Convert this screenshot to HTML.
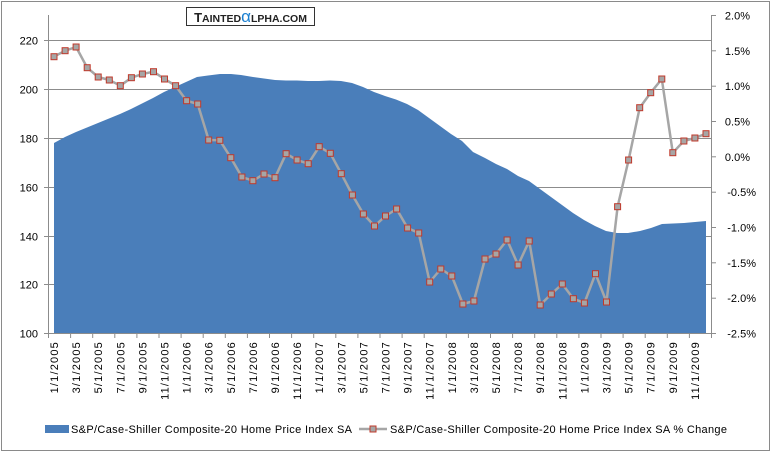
<!DOCTYPE html>
<html><head><meta charset="utf-8"><style>
html,body{margin:0;padding:0;background:#fff}
svg{display:block}
text{font-family:"Liberation Sans",sans-serif;font-size:11px;fill:#000}
.xl text{letter-spacing:1.2px}
</style></head><body>
<svg width="771" height="452" xmlns="http://www.w3.org/2000/svg">
<rect x="1.5" y="1.5" width="768" height="449" fill="#fff" stroke="#8a8a8a"/>
<g stroke="#8c8c8c" stroke-width="1">
<line x1="48.5" x2="711.5" y1="40.5" y2="40.5"/>
<line x1="48.5" x2="711.5" y1="89.5" y2="89.5"/>
<line x1="48.5" x2="711.5" y1="138.5" y2="138.5"/>
<line x1="48.5" x2="711.5" y1="187.5" y2="187.5"/>
<line x1="48.5" x2="711.5" y1="236.5" y2="236.5"/>
<line x1="48.5" x2="711.5" y1="284.5" y2="284.5"/>
</g>
<path fill="#4a7eba" d="M54,333 L54,143 L65,137 L76,132 L87,127.5 L98,123 L109,118.5 L120,114 L131,109 L142,103.5 L153,98 L164,92 L175,87 L186,82 L197,77 L208,75.5 L220,74 L231,74 L241,75 L253,77 L264,78.5 L275,80 L286,80.5 L297,80.5 L308,81 L319,81 L330,80.5 L341,81 L352,83 L363,87 L374,92 L385,96 L396,99.5 L407,104 L418,110 L429,118 L440,126 L451,134 L462,141 L473,152 L485,158 L496,164 L507,169 L518,176 L529,181 L540,189 L551,197 L562,205 L573,213 L584,220 L595,226 L606,231 L617,233 L628,233 L640,231 L651,228 L662,224 L673,223.5 L684,223 L695,222 L706,221 L706,333 Z"/>
<g stroke="#8c8c8c" stroke-width="1">
<line x1="48.5" x2="48.5" y1="15" y2="338"/>
<line x1="711.5" x2="711.5" y1="15" y2="338"/>
<line x1="44" x2="716" y1="333.5" y2="333.5"/>
<line x1="44" x2="48.5" y1="40.5" y2="40.5"/>
<line x1="44" x2="48.5" y1="89.5" y2="89.5"/>
<line x1="44" x2="48.5" y1="138.5" y2="138.5"/>
<line x1="44" x2="48.5" y1="187.5" y2="187.5"/>
<line x1="44" x2="48.5" y1="236.5" y2="236.5"/>
<line x1="44" x2="48.5" y1="284.5" y2="284.5"/>
<line x1="711.5" x2="716" y1="15.5" y2="15.5"/>
<line x1="711.5" x2="716" y1="50.8" y2="50.8"/>
<line x1="711.5" x2="716" y1="86.2" y2="86.2"/>
<line x1="711.5" x2="716" y1="121.5" y2="121.5"/>
<line x1="711.5" x2="716" y1="156.8" y2="156.8"/>
<line x1="711.5" x2="716" y1="192.2" y2="192.2"/>
<line x1="711.5" x2="716" y1="227.5" y2="227.5"/>
<line x1="711.5" x2="716" y1="262.8" y2="262.8"/>
<line x1="711.5" x2="716" y1="298.2" y2="298.2"/>
</g>
<g stroke="#8c8c8c">
<line x1="70.6" x2="70.6" y1="333" y2="338"/><line x1="92.7" x2="92.7" y1="333" y2="338"/><line x1="114.8" x2="114.8" y1="333" y2="338"/><line x1="136.9" x2="136.9" y1="333" y2="338"/><line x1="159" x2="159" y1="333" y2="338"/><line x1="181.1" x2="181.1" y1="333" y2="338"/><line x1="203.2" x2="203.2" y1="333" y2="338"/><line x1="225.3" x2="225.3" y1="333" y2="338"/><line x1="247.4" x2="247.4" y1="333" y2="338"/><line x1="269.5" x2="269.5" y1="333" y2="338"/><line x1="291.6" x2="291.6" y1="333" y2="338"/><line x1="313.7" x2="313.7" y1="333" y2="338"/><line x1="335.8" x2="335.8" y1="333" y2="338"/><line x1="357.9" x2="357.9" y1="333" y2="338"/><line x1="380" x2="380" y1="333" y2="338"/><line x1="402.1" x2="402.1" y1="333" y2="338"/><line x1="424.2" x2="424.2" y1="333" y2="338"/><line x1="446.3" x2="446.3" y1="333" y2="338"/><line x1="468.4" x2="468.4" y1="333" y2="338"/><line x1="490.5" x2="490.5" y1="333" y2="338"/><line x1="512.6" x2="512.6" y1="333" y2="338"/><line x1="534.7" x2="534.7" y1="333" y2="338"/><line x1="556.8" x2="556.8" y1="333" y2="338"/><line x1="578.9" x2="578.9" y1="333" y2="338"/><line x1="601" x2="601" y1="333" y2="338"/><line x1="623.1" x2="623.1" y1="333" y2="338"/><line x1="645.2" x2="645.2" y1="333" y2="338"/><line x1="667.3" x2="667.3" y1="333" y2="338"/><line x1="689.4" x2="689.4" y1="333" y2="338"/>
</g>
<g text-anchor="end">
<text x="38" y="44.5">220</text><text x="38" y="93.5">200</text><text x="38" y="142.5">180</text>
<text x="38" y="191.5">160</text><text x="38" y="240.5">140</text><text x="38" y="288.5">120</text><text x="38" y="337.5">100</text>
</g>
<g text-anchor="end">
<text x="750" y="19.5">2.0%</text><text x="750" y="54.8">1.5%</text><text x="750" y="90.2">1.0%</text>
<text x="750" y="125.5">0.5%</text><text x="750" y="160.8">0.0%</text><text x="756" y="196.2">-0.5%</text>
<text x="756" y="231.5">-1.0%</text><text x="756" y="266.8">-1.5%</text><text x="756" y="302.2">-2.0%</text><text x="756" y="337.5">-2.5%</text>
</g>
<g text-anchor="end" class="xl">
<text transform="translate(58,341) rotate(-90)">1/1/2005</text>
<text transform="translate(80.1,341) rotate(-90)">3/1/2005</text>
<text transform="translate(102.2,341) rotate(-90)">5/1/2005</text>
<text transform="translate(124.3,341) rotate(-90)">7/1/2005</text>
<text transform="translate(146.4,341) rotate(-90)">9/1/2005</text>
<text transform="translate(168.5,341) rotate(-90)">11/1/2005</text>
<text transform="translate(190.6,341) rotate(-90)">1/1/2006</text>
<text transform="translate(212.7,341) rotate(-90)">3/1/2006</text>
<text transform="translate(234.8,341) rotate(-90)">5/1/2006</text>
<text transform="translate(256.9,341) rotate(-90)">7/1/2006</text>
<text transform="translate(279,341) rotate(-90)">9/1/2006</text>
<text transform="translate(301.1,341) rotate(-90)">11/1/2006</text>
<text transform="translate(323.2,341) rotate(-90)">1/1/2007</text>
<text transform="translate(345.3,341) rotate(-90)">3/1/2007</text>
<text transform="translate(367.4,341) rotate(-90)">5/1/2007</text>
<text transform="translate(389.5,341) rotate(-90)">7/1/2007</text>
<text transform="translate(411.6,341) rotate(-90)">9/1/2007</text>
<text transform="translate(433.7,341) rotate(-90)">11/1/2007</text>
<text transform="translate(455.8,341) rotate(-90)">1/1/2008</text>
<text transform="translate(477.9,341) rotate(-90)">3/1/2008</text>
<text transform="translate(500,341) rotate(-90)">5/1/2008</text>
<text transform="translate(522.1,341) rotate(-90)">7/1/2008</text>
<text transform="translate(544.2,341) rotate(-90)">9/1/2008</text>
<text transform="translate(566.3,341) rotate(-90)">11/1/2008</text>
<text transform="translate(588.4,341) rotate(-90)">1/1/2009</text>
<text transform="translate(610.5,341) rotate(-90)">3/1/2009</text>
<text transform="translate(632.6,341) rotate(-90)">5/1/2009</text>
<text transform="translate(654.7,341) rotate(-90)">7/1/2009</text>
<text transform="translate(676.8,341) rotate(-90)">9/1/2009</text>
<text transform="translate(698.9,341) rotate(-90)">11/1/2009</text>
</g>
<polyline fill="none" stroke="#a6a6a6" stroke-width="2.5" stroke-linejoin="round" points="54,56.7 65.1,50.7 76.1,47 87.2,67.7 98.2,77 109.3,80 120.3,85.7 131.4,77.7 142.4,74 153.5,71.7 164.5,79 175.6,85.7 186.6,100.7 197.7,104 208.7,140 219.8,140.3 230.8,157.7 241.9,177 252.9,180.7 264,174 275,177.7 286.1,153.7 297.1,160 308.2,163.7 319.2,146.7 330.3,153.3 341.3,173.7 352.4,195 363.4,214 374.5,226 385.5,216 396.6,209 407.6,228 418.7,233 429.7,282 440.8,269 451.8,276 462.9,304 473.9,301 485,259 496,254 507.1,240 518.1,265 529.2,241 540.2,305 551.3,294 562.3,284 573.4,298.7 584.4,303 595.5,273.7 606.5,302 617.6,206.7 628.6,160 639.7,107.7 650.7,92.7 661.8,79 672.8,152.7 683.9,141 694.9,138 706,133.7"/>
<g fill="#a6a6a6" stroke="#c0392b" stroke-width="1" transform="translate(0.5,0.5)">
<rect x="50.5" y="53.2" width="6" height="6"/><rect x="61.6" y="47.2" width="6" height="6"/><rect x="72.6" y="43.5" width="6" height="6"/><rect x="83.7" y="64.2" width="6" height="6"/><rect x="94.7" y="73.5" width="6" height="6"/><rect x="105.8" y="76.5" width="6" height="6"/><rect x="116.8" y="82.2" width="6" height="6"/><rect x="127.9" y="74.2" width="6" height="6"/><rect x="138.9" y="70.5" width="6" height="6"/><rect x="150" y="68.2" width="6" height="6"/><rect x="161" y="75.5" width="6" height="6"/><rect x="172.1" y="82.2" width="6" height="6"/><rect x="183.1" y="97.2" width="6" height="6"/><rect x="194.2" y="100.5" width="6" height="6"/><rect x="205.2" y="136.5" width="6" height="6"/><rect x="216.3" y="136.8" width="6" height="6"/><rect x="227.3" y="154.2" width="6" height="6"/><rect x="238.4" y="173.5" width="6" height="6"/><rect x="249.4" y="177.2" width="6" height="6"/><rect x="260.5" y="170.5" width="6" height="6"/><rect x="271.5" y="174.2" width="6" height="6"/><rect x="282.6" y="150.2" width="6" height="6"/><rect x="293.6" y="156.5" width="6" height="6"/><rect x="304.7" y="160.2" width="6" height="6"/><rect x="315.7" y="143.2" width="6" height="6"/><rect x="326.8" y="149.8" width="6" height="6"/><rect x="337.8" y="170.2" width="6" height="6"/><rect x="348.9" y="191.5" width="6" height="6"/><rect x="359.9" y="210.5" width="6" height="6"/><rect x="371" y="222.5" width="6" height="6"/><rect x="382" y="212.5" width="6" height="6"/><rect x="393.1" y="205.5" width="6" height="6"/><rect x="404.1" y="224.5" width="6" height="6"/><rect x="415.2" y="229.5" width="6" height="6"/><rect x="426.2" y="278.5" width="6" height="6"/><rect x="437.3" y="265.5" width="6" height="6"/><rect x="448.3" y="272.5" width="6" height="6"/><rect x="459.4" y="300.5" width="6" height="6"/><rect x="470.4" y="297.5" width="6" height="6"/><rect x="481.5" y="255.5" width="6" height="6"/><rect x="492.5" y="250.5" width="6" height="6"/><rect x="503.6" y="236.5" width="6" height="6"/><rect x="514.6" y="261.5" width="6" height="6"/><rect x="525.7" y="237.5" width="6" height="6"/><rect x="536.7" y="301.5" width="6" height="6"/><rect x="547.8" y="290.5" width="6" height="6"/><rect x="558.8" y="280.5" width="6" height="6"/><rect x="569.9" y="295.2" width="6" height="6"/><rect x="580.9" y="299.5" width="6" height="6"/><rect x="592" y="270.2" width="6" height="6"/><rect x="603" y="298.5" width="6" height="6"/><rect x="614.1" y="203.2" width="6" height="6"/><rect x="625.1" y="156.5" width="6" height="6"/><rect x="636.2" y="104.2" width="6" height="6"/><rect x="647.2" y="89.2" width="6" height="6"/><rect x="658.3" y="75.5" width="6" height="6"/><rect x="669.3" y="149.2" width="6" height="6"/><rect x="680.4" y="137.5" width="6" height="6"/><rect x="691.4" y="134.5" width="6" height="6"/><rect x="702.5" y="130.2" width="6" height="6"/>
</g>
<rect x="186.5" y="7.5" width="128" height="18" fill="#fff" stroke="#333"/>
<text x="250.5" y="22" text-anchor="middle" style="font-size:13px;font-weight:bold;fill:#222">T<tspan style="font-size:10.5px">AINTED</tspan><tspan style="fill:#1a7fd0;font-size:17px;font-weight:normal">α</tspan><tspan style="font-size:10.5px">LPHA.COM</tspan></text>
<rect x="45" y="425" width="24" height="8" fill="#4a7eba"/>
<text x="71" y="433" textLength="281" lengthAdjust="spacing">S&amp;P/Case-Shiller Composite-20 Home Price Index SA</text>
<line x1="359" x2="387" y1="429" y2="429" stroke="#a6a6a6" stroke-width="2.5"/>
<rect x="370" y="426" width="6" height="6" fill="#a6a6a6" stroke="#c0392b"/>
<text x="390" y="433" textLength="337" lengthAdjust="spacing">S&amp;P/Case-Shiller Composite-20 Home Price Index SA % Change</text>
</svg>
</body></html>
